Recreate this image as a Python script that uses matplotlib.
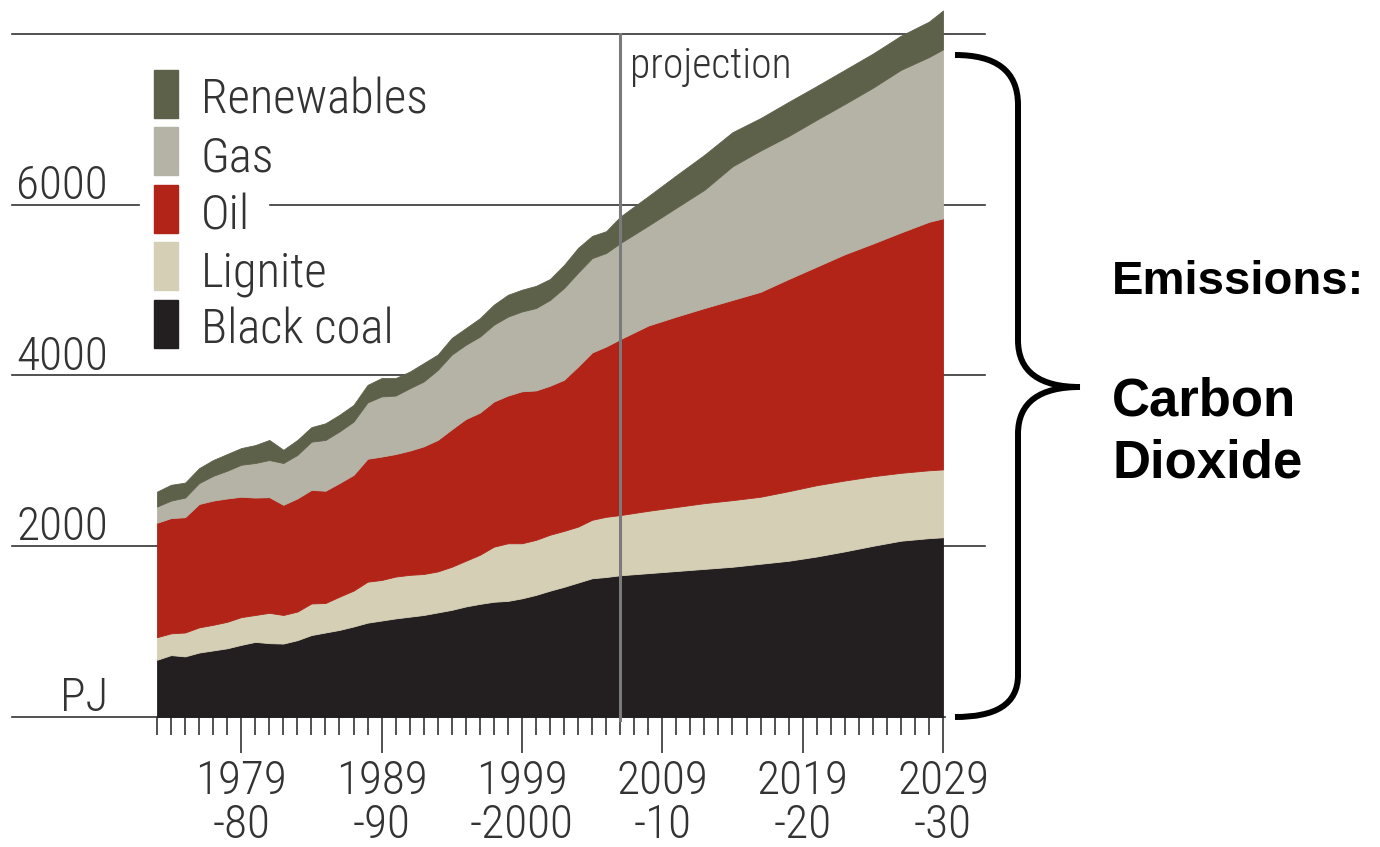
import numpy as np
import matplotlib
matplotlib.use('Agg')
import matplotlib.pyplot as plt
from matplotlib.path import Path
from matplotlib.patches import PathPatch, Rectangle
from matplotlib.transforms import Affine2D, blended_transform_factory

# years: annual history 1973-74 .. 2006-07, projection every 2 years to 2029-30
years = list(range(1973, 2007)) + list(range(2008, 2029, 2)) + [2029]

black_coal = [670, 725, 710, 755, 780, 805, 845, 880, 865, 860, 900, 960, 990, 1020, 1060, 1105, 1130,
              1155, 1175, 1195, 1225, 1255, 1295, 1325, 1350, 1360, 1390, 1430, 1480, 1525, 1575, 1625,
              1640, 1660,
              1685, 1710, 1735, 1760, 1795, 1830, 1880, 1940, 2005, 2065, 2095, 2105]
lignite = [265, 255, 280, 295, 300, 310, 325, 315, 355, 335, 335, 370, 345, 390, 420, 480, 475,
           490, 490, 480, 480, 505, 535, 575, 645, 675, 645, 645, 655, 655, 655, 685,
           705, 705,
           730, 750, 770, 780, 785, 815, 835, 830, 815, 795, 795, 795]
oil = [1340, 1350, 1350, 1445, 1455, 1445, 1410, 1375, 1355, 1290, 1325, 1330, 1315, 1330, 1355, 1440, 1445,
       1435, 1455, 1495, 1540, 1610, 1660, 1665, 1700, 1730, 1780, 1750, 1745, 1770, 1875, 1960,
       1995, 2060,
       2170, 2230, 2285, 2345, 2400, 2485, 2560, 2650, 2725, 2815, 2910, 2940]
gas = [190, 205, 230, 245, 290, 325, 375, 405, 435, 490, 510, 565, 595, 605, 625, 660, 705,
       685, 730, 760, 820, 875, 870, 890, 900, 925, 935, 965, 1005, 1075, 1100, 1105,
       1095, 1125,
       1170, 1275, 1385, 1565, 1655, 1675, 1720, 1760, 1825, 1905, 1930, 1980]
renewables = [175, 185, 175, 175, 185, 195, 195, 210, 235, 155, 175, 170, 195, 195, 195, 205, 215,
              205, 195, 215, 180, 195, 195, 215, 235, 255, 255, 260, 245, 270, 290, 260,
              255, 310,
              345, 380, 410, 400, 380, 400, 395, 400, 400, 400, 415, 455]

names = ['Renewables', 'Gas', 'Oil', 'Lignite', 'Black coal']
colors = ['#5e614a', '#b5b3a5', '#b22318', '#d5cfb6', '#231f20']
major_years = [1979, 1989, 1999, 2009, 2019, 2029]
major_labels = ['1979\n-80', '1989\n-90', '1999\n-2000', '2009\n-10', '2019\n-20', '2029\n-30']
grid_vals = [0, 2000, 4000, 6000, 8000]
grid_labels = ['PJ', '2000', '4000', '6000', '']
projection_start = 2006

narrow = ['Roboto Condensed', 'Fira Sans Condensed', 'IBM Plex Sans Condensed', 'Archivo Narrow',
          'PT Sans Narrow', 'Roboto', 'DejaVu Sans']
ink = '#333333'
lab_font = dict(family=narrow, weight='light', color=ink)

W, H = 1380, 847
fig = plt.figure(figsize=(W / 100, H / 100), dpi=100)
px = Affine2D().scale(1.0 / W, -1.0 / H).translate(0, 1) + fig.transFigure

ax = fig.add_axes([157 / W, 1 - 717 / H, (943 - 157) / W, (717 - 34) / H])
ax.stackplot(years, black_coal, lignite, oil, gas, renewables,
             colors=colors[::-1], edgecolor='face', linewidth=0.6, zorder=2)
for coll in ax.collections:
    coll.set_clip_on(False)
ax.set_xlim(1973, 2029)
ax.set_ylim(0, 8000)
for s in ax.spines.values():
    s.set_visible(False)
ax.set_yticks([])

# gridlines run past the plot on both sides
gtr = blended_transform_factory(fig.transFigure, ax.transData)
for v in grid_vals:
    if v == 6000:
        segs = [(12, 139), (270, 985)]
    elif v == 0:
        segs = [(12, 945)]
    else:
        segs = [(12, 985)]
    for a, b in segs:
        ax.plot([a / W, b / W], [v, v], transform=gtr, color=ink, lw=1.2,
                clip_on=False, zorder=0.5)
for v, lab in zip(grid_vals, grid_labels):
    if lab:
        ax.annotate(lab, xy=(108 / W, v), xycoords=('figure fraction', 'data'),
                    xytext=(0, 6), textcoords='offset pixels', ha='right', va='baseline',
                    fontsize=34, **lab_font)

# projection marker
ax.plot([projection_start, projection_start], [-40, 8000], color='#7a7a7a', lw=2.2,
        clip_on=False, zorder=3)
ax.text(630, 78, 'projection', transform=px, fontsize=30, va='baseline', ha='left', **lab_font)

ax.set_xticks(major_years)
ax.set_xticks(np.arange(1973, 2030), minor=True)
ax.set_xticklabels(major_labels, fontsize=34, linespacing=1.0, **lab_font)
ax.tick_params(axis='x', which='major', length=26, width=1.2, color=ink, pad=4)
ax.tick_params(axis='x', which='minor', length=13, width=1.2, color=ink)

# legend
for i, (name, c) in enumerate(zip(names, colors)):
    top = 70 + 57.5 * i
    fig.patches.append(Rectangle((154, top), 24, 48, transform=px, color=c, zorder=5))
    fig.text(201, top + 44, name, transform=px, fontsize=35, va='baseline', ha='left',
             zorder=5, **lab_font)

# brace
verts = [(955, 55), (995, 55), (1018, 70), (1018, 105),
         (1018, 340),
         (1018, 372), (1040, 387), (1080, 387),
         (1040, 387), (1018, 402), (1018, 434),
         (1018, 675),
         (1018, 705), (995, 717), (955, 717)]
codes = [Path.MOVETO, Path.CURVE4, Path.CURVE4, Path.CURVE4,
         Path.LINETO,
         Path.CURVE4, Path.CURVE4, Path.CURVE4,
         Path.CURVE4, Path.CURVE4, Path.CURVE4,
         Path.LINETO,
         Path.CURVE4, Path.CURVE4, Path.CURVE4]
fig.patches.append(PathPatch(Path(verts, codes), transform=px, fill=False, lw=4.3,
                             edgecolor='black', capstyle='butt'))

bold = dict(family=['Liberation Sans', 'DejaVu Sans'], weight='bold', color='black',
            va='baseline', ha='left')
fig.text(1112, 294, 'Emissions:', transform=px, fontsize=34, **bold)
fig.text(1112, 415, 'Carbon', transform=px, fontsize=38, **bold)
fig.text(1112, 478, 'Dioxide', transform=px, fontsize=38, **bold)

fig.savefig('out.png', dpi=100)
